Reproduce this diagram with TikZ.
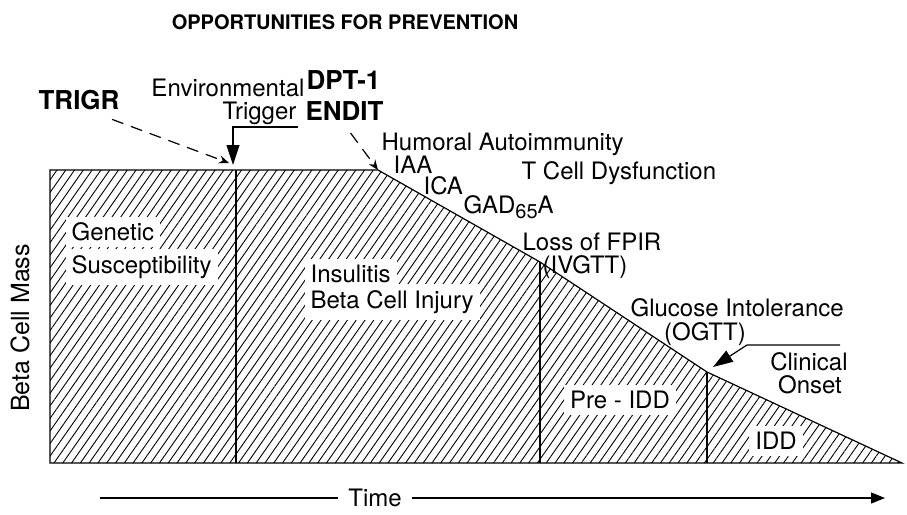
\documentclass[tikz,border=0pt]{standalone}
\usepackage{fontspec}
\setmainfont{TeX Gyre Heros}
\usetikzlibrary{arrows.meta,patterns.meta,positioning}

\tikzset{
  lbl/.style={font=\fontsize{12}{14}\selectfont,inner sep=0pt},
  bold/.style={font=\fontsize{13}{15}\selectfont\bfseries,inner sep=0pt},
  patch/.style={lbl,fill=white,inner sep=3pt},
  hatch/.style={pattern={Lines[angle=55,distance=3.6pt,line width=0.45pt]}},
  dasharrow/.style={dash pattern=on 6pt off 4pt,-{Stealth[length=5pt,width=4pt]}},
  bigarrow/.style={-{Triangle[length=10pt,width=6.5pt]}},
}

\begin{document}
\begin{tikzpicture}[x=0.5pt,y=0.5pt,line width=0.6pt]
  \useasboundingbox (0,0) rectangle (907,-515);

  % corners of the beta cell mass curve
  \coordinate (o)     at (50,-463);
  \coordinate (tl)    at (50,-170);
  \coordinate (trig)  at (236,-170);
  \coordinate (peak)  at (378,-170);
  \coordinate (fpir)  at (540,-262);
  \coordinate (onset) at (707,-372);
  \coordinate (end)   at (902,-463);

  \fill[hatch] (o) -- (tl) -- (peak) -- (fpir) -- (onset) -- (end) -- cycle;
  \draw (o) -- (tl) -- (peak) -- (fpir) -- (onset) -- (end) -- cycle;
  \draw (trig) -- (trig |- o);
  \draw (fpir) -- (fpir |- o);
  \draw (onset) -- (onset |- o);

  \node[font=\fontsize{10}{12}\selectfont\bfseries] (title) at (345,-22) {OPPORTUNITIES FOR PREVENTION};

  \node[bold,anchor=west] (trigr) at (38,-100) {TRIGR};
  \node[lbl,anchor=east] (env) at (305,-88) {Environmental};
  \node[lbl,anchor=east] (trigger) at (297,-113) {Trigger};
  \node[bold,anchor=west] (dpt) at (306,-80) {DPT-1};
  \node[bold,anchor=west] (endit) at (305,-111) {ENDIT};

  \node[lbl,anchor=west] (humoral) at (381,-144) {Humoral Autoimmunity};
  \node[lbl,anchor=west] (iaa) at (393,-165) {IAA};
  \node[lbl,anchor=west] (ica) at (423,-186) {ICA};
  \node[lbl,anchor=west] (gad) at (463,-207) {GAD\raisebox{-0.4ex}{\fontsize{10}{10}\selectfont 65}A};
  \node[lbl,anchor=west] (tcell) at (521,-173) {T Cell Dysfunction};
  \node[lbl,anchor=west] (loss) at (522,-242) {Loss of FPIR};
  \node[lbl] (ivgtt) at (585,-267) {(IVGTT)};
  \node[lbl,anchor=west] (glucose) at (630,-308) {Glucose Intolerance};
  \node[lbl] (ogtt) at (705,-334) {(OGTT)};
  \node[lbl] (clinical) at (809,-362) {Clinical};
  \node[lbl] (onsetlbl) at (810,-385) {Onset};

  \node[patch,anchor=west] (genetic) at (65,-232) {Genetic};
  \node[patch,anchor=west] (suscept) at (65,-267) {Susceptibility};
  \node[patch,anchor=west] (insulitis) at (304,-274) {Insulitis};
  \node[patch,anchor=west] (injury) at (304,-302) {Beta Cell Injury};
  \node[patch] (preidd) at (620,-400) {Pre - IDD};
  \node[patch] (idd) at (776,-441) {IDD};

  \node[lbl,rotate=90,font=\fontsize{12.5}{14}\selectfont] (mass) at (20,-328) {Beta Cell Mass};
  \node[lbl,inner sep=5pt] (time) at (375,-498) {Time};

  % arrows
  \coordinate (tstart)   at (100,-498);
  \coordinate (tend)     at (885,-498);
  \coordinate (trigfrom) at (298,-127);
  \coordinate (clinfrom) at (840,-345);
  \coordinate (clinbend) at (747,-345);

  \draw (tstart) -- (time.west);
  \draw[-{Triangle[length=7pt,width=5.5pt]}] (time.east) -- (tend);
  \draw[bigarrow] (trigfrom) -| ([shift={(-3,5)}]trig);
  \draw[dasharrow] ([shift={(-8,-9)}]trigr.south east) -- ([shift={(-7,7)}]trig);
  \draw[dasharrow] ([shift={(6,-12)}]endit.south) -- (peak);
  \draw[bigarrow] (clinfrom) -- (clinbend) -- ([shift={(6,5)}]onset);

\end{tikzpicture}
\end{document}
